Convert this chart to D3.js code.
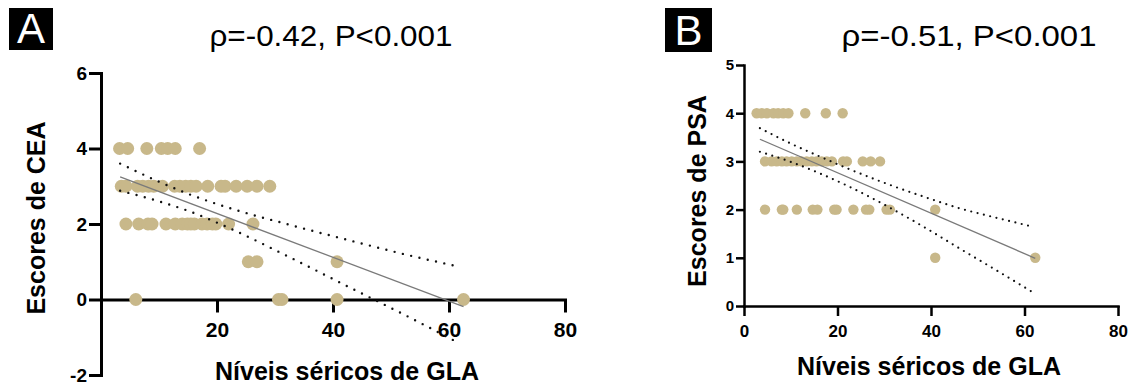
<!DOCTYPE html>
<html lang="pt">
<head>
<meta charset="UTF-8">
<title>GLA vs CEA / PSA</title>
<script src="https://d3js.org/d3.v7.min.js"></script>
<style>
    body { margin: 0; background: #fff; }
    svg { display: block; font-family: "Liberation Sans", Arial, sans-serif; }
</style>
</head>
<body>
<script>
// ---- data ----
// panel A : GLA (x) vs CEA score (y)
const glaA = [3.2, 4.6, 7.9, 10.4, 11.5, 12.8, 17.0,
    3.5, 4.3, 6.3, 7.2, 8.2, 9.1, 10.6, 12.7, 13.6, 14.6, 15.5, 16.4, 18.4, 20.7, 21.4, 23.3, 25.2, 26.9, 29.1,
    4.3, 6.5, 8.1, 8.8, 11.2, 12.8, 14.0, 14.9, 15.5, 16.1, 17.4, 18.3, 19.2, 19.8, 22.0, 26.2,
    25.4, 26.9, 40.7,
    6.0, 30.6, 31.2, 40.7, 62.5];
const ceaScore = [4, 4, 4, 4, 4, 4, 4,
    3, 3, 3, 3, 3, 3, 3, 3, 3, 3, 3, 3, 3, 3, 3, 3, 3, 3, 3,
    2, 2, 2, 2, 2, 2, 2, 2, 2, 2, 2, 2, 2, 2, 2, 2,
    1, 1, 1,
    0, 0, 0, 0, 0];
// regression line and 95% band, panel A
const fitAx = [3.3, 62.5];
const fitAy = [3.25, -0.19];
const bandAx = [3.3, 10, 15, 22, 32, 43, 52, 61.4];
const bandAup = [3.60, 3.12, 2.80, 2.43, 2.00, 1.56, 1.21, 0.88];
const bandAlo = [2.88, 2.60, 2.35, 1.90, 1.16, 0.31, -0.38, -1.13];

// panel B : GLA (x) vs PSA score (y)
const glaB = [2.7, 3.8, 4.9, 6.3, 7.3, 8.4, 9.5, 13.1, 17.5, 21.1,
    4.5, 5.9, 7.0, 8.1, 9.1, 10.2, 11.3, 12.3, 13.4, 14.5, 15.5, 16.6, 17.7, 18.8, 21.2, 22.0, 25.4, 27.1, 29.1,
    4.5, 8.1, 8.4, 11.3, 14.7, 15.7, 19.3, 19.8, 23.4, 26.1, 26.8, 30.5, 31.2, 40.9,
    40.9, 62.3];
const psaScore = [4, 4, 4, 4, 4, 4, 4, 4, 4, 4,
    3, 3, 3, 3, 3, 3, 3, 3, 3, 3, 3, 3, 3, 3, 3, 3, 3, 3, 3,
    2, 2, 2, 2, 2, 2, 2, 2, 2, 2, 2, 2, 2, 2,
    1, 1];
const fitBx = [3.4, 62.3];
const fitBy = [3.46, 0.99];
const bandBx = [3.4, 10, 16, 22, 31, 39, 46, 54, 62];
const bandBup = [3.69, 3.37, 3.11, 2.86, 2.52, 2.25, 2.03, 1.83, 1.64];
const bandBlo = [3.20, 2.99, 2.76, 2.50, 2.05, 1.61, 1.20, 0.74, 0.27];

const xTicksA = [20, 40, 60, 80];
const yTicksA = [-2, 0, 2, 4, 6];
const xTicksB = [0, 20, 40, 60, 80];
const yTicksB = [0, 1, 2, 3, 4, 5];

const dotColor = "#c8b88a";

const svg = d3.select("body").append("svg")
    .attr("width", 1131)
    .attr("height", 391);

function drawPanel(p) {
    const x = d3.scaleLinear().domain(p.xDomain).range(p.xRange);
    const y = d3.scaleLinear().domain(p.yDomain).range(p.yRange);
    const g = svg.append("g");
    const plain = d => String(d); // keep "-2" with a hyphen, no decimals

    // axes
    const xAxis = d3.axisBottom(x).tickValues(p.xTicks).tickFormat(plain)
        .tickSize(p.tickX).tickSizeOuter(0).tickPadding(p.padX);
    const yAxis = d3.axisLeft(y).tickValues(p.yTicks).tickFormat(plain)
        .tickSize(p.tickY).tickSizeOuter(0).tickPadding(p.padY);

    const gx = g.append("g").attr("transform", `translate(0,${y(0)})`).call(xAxis);
    const gy = g.append("g").attr("transform", `translate(${x(0)},0)`).call(yAxis);
    [gx, gy].forEach(a => {
        a.selectAll("path, line").attr("stroke", "#000").attr("stroke-width", p.axisW);
        a.select(".domain").attr("stroke-linecap", "square");
    });
    gx.selectAll("text").attr("fill", "#000").style("font-size", p.fsX + "px").style("font-weight", "bold");
    gy.selectAll("text").attr("fill", "#000").style("font-size", p.fsY + "px").style("font-weight", "bold");

    // points
    g.append("g").selectAll("circle")
        .data(p.xs)
        .join("circle")
        .attr("cx", d => x(d))
        .attr("cy", (d, i) => y(p.ys[i]))
        .attr("r", p.r)
        .attr("fill", dotColor);

    // confidence band (dotted)
    const band = vals => d3.line()
        .x((d, i) => x(p.bandX[i]))
        .y(d => y(d))
        .curve(d3.curveMonotoneX)(vals);
    [p.bandUp, p.bandLo].forEach(vals => {
        g.append("path")
            .attr("d", band(vals))
            .attr("fill", "none")
            .attr("stroke", "#111")
            .attr("stroke-width", p.dotW)
            .attr("stroke-linecap", "round")
            .attr("stroke-dasharray", `0,${p.dotGap}`);
    });

    // fitted line
    g.append("path")
        .attr("d", d3.line().x(d => x(d)).y((d, i) => y(p.fitY[i]))(p.fitX))
        .attr("fill", "none")
        .attr("stroke", "#7a7a7a")
        .attr("stroke-width", 1.3);

    // axis titles
    g.append("text")
        .attr("x", p.xTitle[0]).attr("y", p.xTitle[1])
        .attr("text-anchor", "middle")
        .style("font-size", "25px").style("font-weight", "bold")
        .text("Níveis séricos de GLA");
    g.append("text")
        .attr("transform", `translate(${p.yTitle[0]},${p.yTitle[1]}) rotate(-90)`)
        .attr("text-anchor", "middle")
        .style("font-size", "25px").style("font-weight", "bold")
        .text(p.yLabel);

    // header
    g.append("text")
        .attr("x", p.head[0]).attr("y", p.head[1])
        .attr("text-anchor", "middle")
        .attr("textLength", p.head[2])
        .attr("lengthAdjust", "spacingAndGlyphs")
        .style("font-size", "29px")
        .text(p.headText);

    // panel letter
    g.append("rect")
        .attr("x", p.box[0]).attr("y", p.box[1])
        .attr("width", p.box[2]).attr("height", p.box[3])
        .attr("fill", "#000");
    g.append("text")
        .attr("x", p.box[0] + p.box[2] / 2).attr("y", p.box[1] + p.box[3] - 7)
        .attr("text-anchor", "middle")
        .attr("fill", "#fff")
        .style("font-size", "42px")
        .text(p.letter);
}

drawPanel({
    xDomain: [0, 80], xRange: [101, 565],
    yDomain: [-2, 6], yRange: [375, 73],
    xTicks: xTicksA, yTicks: yTicksA,
    tickX: 13, tickY: 12, padX: 10, padY: 2,
    fsX: 21, fsY: 19, axisW: 3,
    xs: glaA, ys: ceaScore, r: 6.5,
    bandX: bandAx, bandUp: bandAup, bandLo: bandAlo, dotW: 2.4, dotGap: 8.5,
    fitX: fitAx, fitY: fitAy,
    xTitle: [347, 380], yTitle: [45, 218], yLabel: "Escores de CEA",
    head: [331, 46, 243], headText: "ρ=-0.42, P<0.001",
    box: [9, 8, 44, 42], letter: "A"
});

drawPanel({
    xDomain: [0, 80], xRange: [744, 1118],
    yDomain: [0, 5], yRange: [306, 65],
    xTicks: xTicksB, yTicks: yTicksB,
    tickX: 10, tickY: 8, padX: 9, padY: 2,
    fsX: 17, fsY: 15, axisW: 2.5,
    xs: glaB, ys: psaScore, r: 5.2,
    bandX: bandBx, bandUp: bandBup, bandLo: bandBlo, dotW: 2.2, dotGap: 6.5,
    fitX: fitBx, fitY: fitBy,
    xTitle: [929, 375], yTitle: [706, 191], yLabel: "Escores de PSA",
    head: [969, 46, 255], headText: "ρ=-0.51, P<0.001",
    box: [665, 8, 47, 44], letter: "B"
});
</script>
</body>
</html>
